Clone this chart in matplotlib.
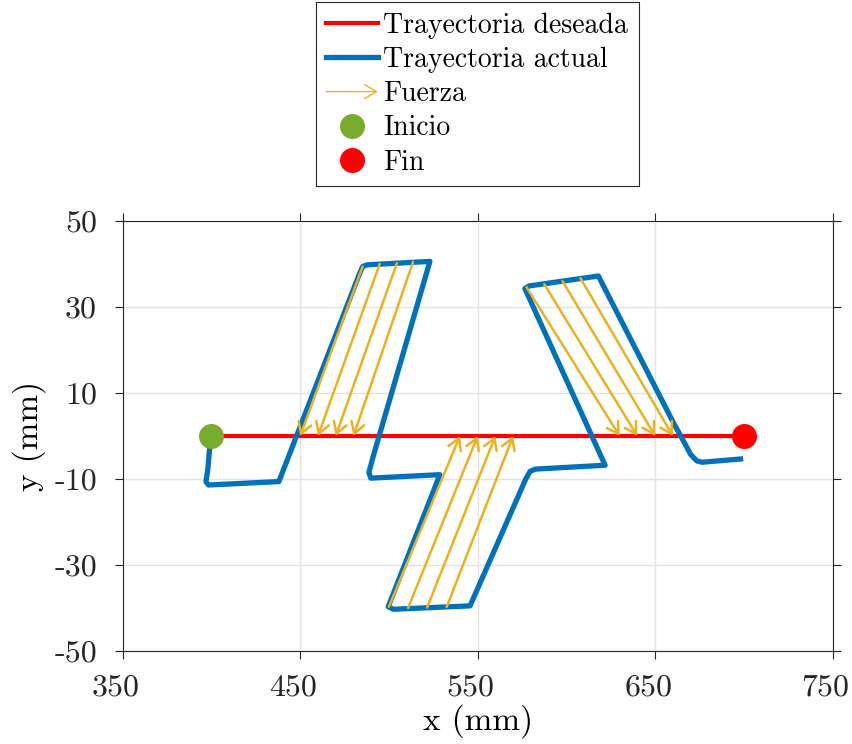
import matplotlib
matplotlib.use("Agg")
import matplotlib.pyplot as plt
import numpy as np
from matplotlib.lines import Line2D
from matplotlib.patches import FancyArrowPatch
from matplotlib.legend_handler import HandlerBase
from matplotlib.transforms import ScaledTranslation

plt.rcParams['font.family'] = 'cmr10'
plt.rcParams['mathtext.fontset'] = 'cm'
plt.rcParams['axes.unicode_minus'] = False

# ---------- Data (mm) ----------
desired_x = [400, 700]
desired_y = [0, 0]

actual_x = [400, 398.9, 397.9, 396.9, 398.4, 438.0, 483.2, 485.2, 487.7, 523.1,
            491.1, 488.7, 489.8, 528.7, 499.6, 502.5, 545.7, 577.1, 579.6, 582.6,
            621.8, 576.6, 579.1, 618.0, 660.5, 666.0, 670.0, 673.5, 676.5, 699.6]
actual_y = [0, -3.3, -8, -10.6, -11.4, -10.6, 37.5, 39.4, 39.8, 40.6,
            -4.8, -8.5, -9.8, -9.0, -39.7, -40.3, -39.5, -10, -8.2, -7.7,
            -6.8, 34.3, 34.9, 37.2, 2.9, -1.2, -4.3, -5.8, -6.1, -5.3]

# force arrows: tail on the actual path, head on the desired path
force_x0 = [485.2, 494.8, 504.5, 513.6,
            500.0, 510.8, 521.5, 532.5,
            577.5, 587.5, 597.8, 607.9]
force_y0 = [39.4, 40.0, 40.2, 40.5,
            -39.7, -40.0, -39.9, -39.8,
            34.6, 35.3, 36.0, 36.7]
force_x1 = [450, 460, 470, 480,
            540, 550, 560, 570,
            630, 640, 650, 660]
force_y1 = [0, 0, 0, 0,
            0, 0, 0, 0,
            0, 0, 0, 0]

start_pt = (400, 0)
end_pt = (700, 0)

x_ticks = [350, 450, 550, 650, 750]
y_ticks = [-50, -30, -10, 10, 30, 50]

RED = '#FF0000'
BLUE = '#0072BD'
ORANGE = '#EDB120'
GREEN = '#77AC30'
AX_COLOR = '#262626'

ARROW_STYLE = '->,head_length=0.5,head_width=0.3'


class ArrowHandler(HandlerBase):
    # legend entry drawn as a small quiver-style arrow
    def create_artists(self, legend, orig_handle, xdescent, ydescent,
                       width, height, fontsize, trans):
        y = height / 2 - ydescent
        arr = FancyArrowPatch((-xdescent, y), (width - xdescent, y),
                              arrowstyle=ARROW_STYLE, mutation_scale=17,
                              color=ORANGE, lw=1.0, shrinkA=0, shrinkB=0,
                              transform=trans)
        return [arr]


fig = plt.figure(figsize=(8.52, 7.44), dpi=100)
ax = fig.add_axes([0.144, 0.125, 0.8333, 0.578])

ax.plot(desired_x, desired_y, color=RED, lw=3.0, zorder=2)
ax.plot(actual_x, actual_y, color=BLUE, lw=3.8, zorder=3,
        solid_joinstyle='round', solid_capstyle='butt')

for x0, y0, x1, y1 in zip(force_x0, force_y0, force_x1, force_y1):
    ax.add_patch(FancyArrowPatch((x0, y0), (x1, y1), arrowstyle=ARROW_STYLE,
                                 mutation_scale=16, color=ORANGE, lw=1.8,
                                 shrinkA=0, shrinkB=0, zorder=4))

ax.plot(*start_pt, 'o', color=GREEN, ms=18, mec='none', zorder=5)
ax.plot(*end_pt, 'o', color=RED, ms=18, mec='none', zorder=5)

ax.set_xlim(350, 750)
ax.set_ylim(-50, 50)
ax.set_xticks(x_ticks)
ax.set_yticks(y_ticks)
ax.set_xticklabels([str(v) for v in x_ticks])
ax.set_yticklabels([str(v) for v in y_ticks])
ax.tick_params(direction='out', length=5.5, width=0.8, colors=AX_COLOR,
               labelsize=23, top=True, right=True)
ax.tick_params(axis='x', pad=11)
ax.tick_params(axis='y', pad=13)
# x tick labels sit slightly left of their ticks
shift = ScaledTranslation(-7 / 100, 0, fig.dpi_scale_trans)
for lab in ax.get_xticklabels():
    lab.set_transform(lab.get_transform() + shift)
for s in ax.spines.values():
    s.set_color(AX_COLOR)
    s.set_linewidth(0.8)
ax.grid(True, color='#E3E3E3', lw=1.0)
ax.set_axisbelow(True)

ax.set_xlabel('x (mm)', fontsize=24, color='black', labelpad=2)
ax.set_ylabel('y (mm)', fontsize=24, color='black', labelpad=6)

handles = [
    Line2D([], [], color=RED, lw=3.0),
    Line2D([], [], color=BLUE, lw=3.8),
    FancyArrowPatch((0, 0), (1, 0)),
    Line2D([], [], ls='none', marker='o', color=GREEN, ms=18, mec='none'),
    Line2D([], [], ls='none', marker='o', color=RED, ms=18, mec='none'),
]
labels = ['Trayectoria deseada', 'Trayectoria actual', 'Fuerza', 'Inicio', 'Fin']
leg = fig.legend(handles, labels, loc='upper center',
                 bbox_to_anchor=(0.5602, 0.997), fontsize=20,
                 handler_map={FancyArrowPatch: ArrowHandler()},
                 frameon=True, fancybox=False, edgecolor=AX_COLOR,
                 framealpha=1, handlelength=1.85, handletextpad=0.2,
                 labelspacing=0.28, borderpad=0.38, borderaxespad=0)
leg.get_frame().set_linewidth(0.8)

fig.savefig('out.png', dpi=100)
